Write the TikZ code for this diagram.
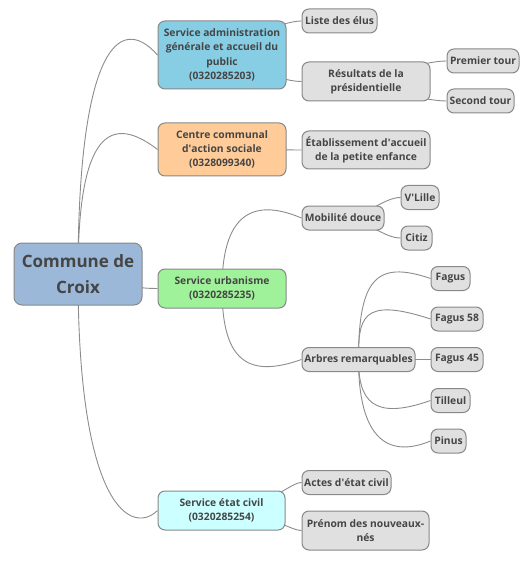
\documentclass[tikz,border=0pt]{standalone}
\usepackage{fontspec}
\setmainfont{Open Sans}
\usepackage{tikz}
\usetikzlibrary{backgrounds}

\definecolor{rootblue}{HTML}{9CB8D8}
\definecolor{skyblue}{HTML}{87CEE4}
\definecolor{peach}{HTML}{FFCC99}
\definecolor{palegreen}{HTML}{A0F29A}
\definecolor{lightcyan}{HTML}{CCFFFF}
\definecolor{leafgray}{HTML}{E0E0E0}
\definecolor{boxline}{HTML}{888888}
\definecolor{linkgray}{HTML}{8C8C8C}
\definecolor{textgray}{HTML}{454545}

\begin{document}
\begin{tikzpicture}[x=1pt, y=-1pt,
    box/.style={draw=boxline, line width=1pt, rounded corners=7pt, fill=leafgray,
        text=textgray, align=center, inner sep=0pt, minimum height=24pt,
        font=\fontsize{10.3}{14.3}\selectfont\bfseries},
    link/.style={draw=linkgray, line width=0.9pt}]
        \useasboundingbox (0,0) rectangle (531,561);

        % Nodes
        \node (root) [box, fill=rootblue, rounded corners=8pt, minimum width=128pt, minimum height=62pt,
            font=\fontsize{17}{26}\selectfont\bfseries] at (78,274) {Commune de\\Croix};

        \node (admin) [box, fill=skyblue, minimum width=128pt, minimum height=68pt] at (222,55)
            {Service administration\\générale et accueil du\\public\\(0320285203)};
        \node (ccas) [box, fill=peach, minimum width=128pt, minimum height=53pt] at (222,149.5)
            {Centre communal\\d\textquotesingle action sociale\\(0328099340)};
        \node (urba) [box, fill=palegreen, minimum width=128pt, minimum height=39pt] at (222,288.5)
            {Service urbanisme\\(0320285235)};
        \node (civil) [box, fill=lightcyan, minimum width=127pt, minimum height=39pt] at (221.5,510.5)
            {Service état civil\\(0320285254)};

        \node (elus) [box, minimum width=75pt] at (339.5,21) {Liste des élus};
        \node (presid) [box, minimum width=128pt, minimum height=39pt] at (366,81.5)
            {Résultats de la\\présidentielle};
        \node (tour1) [box, minimum width=72pt] at (483,61) {Premier tour};
        \node (tour2) [box, minimum width=67pt] at (480.5,101) {Second tour};
        \node (creche) [box, minimum width=128pt, minimum height=38pt] at (366,150)
            {Établissement d\textquotesingle accueil\\de la petite enfance};

        \node (mobil) [box, minimum width=82pt] at (343,218) {Mobilité douce};
        \node (vlille) [box, minimum width=38pt] at (420,197.5) {V\textquotesingle Lille};
        \node (citiz) [box, minimum width=31pt] at (416.5,238) {Citiz};
        \node (arbres) [box, minimum width=113pt] at (358.5,359.5) {Arbres remarquables};
        \node (fagus) [box, minimum width=39pt] at (450.5,278.5) {Fagus};
        \node (fagusA) [box, minimum width=52pt] at (457,319) {Fagus 58};
        \node (fagusB) [box, minimum width=52pt] at (457,359.5) {Fagus 45};
        \node (tilleul) [box, minimum width=39pt] at (450.5,400.5) {Tilleul};
        \node (pinus) [box, minimum width=35pt] at (448.5,441) {Pinus};

        \node (actes) [box, minimum width=89pt] at (346.5,482.5) {Actes d\textquotesingle état civil};
        \node (prenoms) [box, minimum width=127pt, minimum height=39pt] at (365.5,530.5)
            {Prénom des nouveaux-\\nés};

        % Edges
        \begin{scope}[on background layer]
        \draw[link] (root.center) .. controls +(0,-219) and +(-40,-45) .. (admin.west);
        \draw[link] (root.center) .. controls +(0,-124.5) and +(-55,-42.5) .. (ccas.west);
        \draw[link] (root.center) .. controls +(40,8) and +(-30,0) .. (urba.west);
        \draw[link] (root.center) .. controls +(0,236.5) and +(-25,24.5) .. (civil.west);

        \draw[link] (admin.center) .. controls +(30,-20) and +(-17,0) .. (elus.west);
        \draw[link] (admin.center) .. controls +(30,15) and +(-17,0) .. (presid.west);
        \draw[link] (presid.center) .. controls +(29,-11.5) and +(-17,0) .. (tour1.west);
        \draw[link] (presid.center) .. controls +(29,11.5) and +(-17,0) .. (tour2.west);
        \draw[link] (ccas.center) -- (creche.west);

        \draw[link] (urba.center) .. controls +(0,-70.5) and +(-52,-22) .. (mobil.west);
        \draw[link] (urba.center) .. controls +(0,71) and +(-55,19.5) .. (arbres.west);
        \draw[link] (mobil.center) .. controls +(27,-4) and +(-16,0) .. (vlille.west);
        \draw[link] (mobil.center) .. controls +(27,4) and +(-16,0) .. (citiz.west);
        \draw[link] (arbres.center) .. controls +(0,-81) and +(-54,-18.5) .. (fagus.west);
        \draw[link] (arbres.center) .. controls +(0,-40.5) and +(-70,-23) .. (fagusA.west);
        \draw[link] (arbres.center) -- (fagusB.west);
        \draw[link] (arbres.center) .. controls +(0,41) and +(-58,20.5) .. (tilleul.west);
        \draw[link] (arbres.center) .. controls +(0,81.5) and +(-41,17) .. (pinus.west);

        \draw[link] (civil.center) .. controls +(43,0) and +(-12,0) .. (actes.west);
        \draw[link] (civil.center) .. controls +(43,0) and +(-12,0) .. (prenoms.west);
        \end{scope}
    \end{tikzpicture}
\end{document}
